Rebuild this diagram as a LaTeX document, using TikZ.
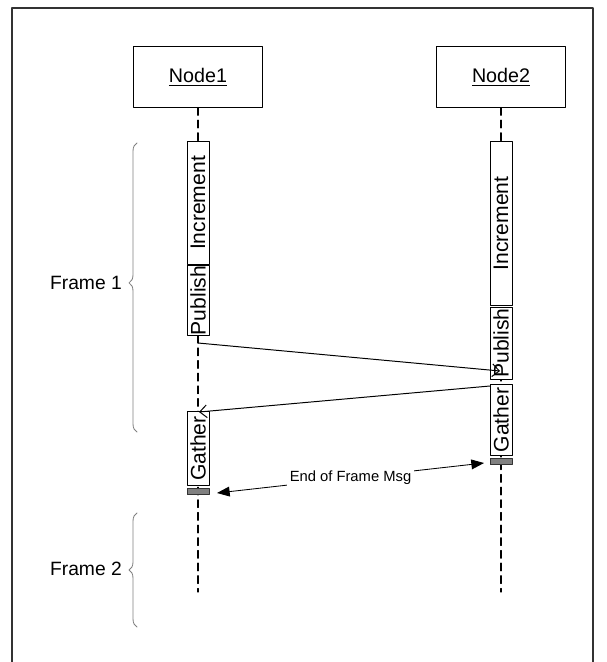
\documentclass[tikz,border=0pt]{standalone}
\usepackage{fontspec}
\setmainfont{Liberation Sans}
\usetikzlibrary{arrows.meta,decorations.pathreplacing}
\tikzstyle{every path}=[line width=0.7pt,line cap=round,line join=round]
\tikzstyle{head}=[draw,minimum width=3.22cm,minimum height=1.5cm,font=\fontsize{14}{16}\selectfont]
\tikzstyle{act}=[draw,fill=white,rotate=90,inner sep=0pt,minimum height=0.55cm,font=\fontsize{15}{16}\selectfont]
\tikzstyle{endbar}=[draw=gray!40!black,fill=gray,minimum width=0.55cm,minimum height=0.17cm,inner sep=0pt]
\tikzstyle{life}=[dash pattern=on 5.5pt off 3.5pt,line width=0.8pt]
\tikzstyle{framebrace}=[draw=gray,line width=0.6pt,decorate,decoration={brace,amplitude=0.2cm}]
\tikzstyle{msg}=[line width=0.7pt,-{Straight Barb[length=5pt,width=9pt]}]

\begin{document}
\begin{tikzpicture}[x=0.025cm,y=-0.025cm]
  \useasboundingbox (0,0) rectangle (606,662);
  % outer sheet
  \draw[gray!40!black,line width=1pt,line cap=butt] (12,662)--(12,8)--(593,8)--(593,662);

  % heads and lifelines
  \node[head] (n1) at (198,77) {\underline{Node1}};
  \node[head] (n2) at (501,77) {\underline{Node2}};
  \coordinate (n1end) at (198,592);
  \coordinate (n2end) at (501,592);
  \draw[life] (n1.south) -- (n1end);
  \draw[life] (n2.south) -- (n2end);

  % activations, Node1
  \node[act,minimum width=3.05cm] (inc1) at (198,203) {Increment};
  \node[act,minimum width=1.73cm] (pub1) at (198,300.5) {Publish};
  \node[act,minimum width=1.83cm] (gat1) at (198,448.5) {Gather};
  \node[endbar] (bar1) at (198,491.5) {};
  % activations, Node2
  \node[act,minimum width=4.08cm] (inc2) at (501,223.5) {Increment};
  \node[act,minimum width=1.8cm] (pub2) at (501,343) {Publish};
  \node[act,minimum width=1.78cm] (gat2) at (501,420) {Gather};
  \node[endbar] (bar2) at (501,461.5) {};

  % messages
  \coordinate (m1s) at (198,343);
  \coordinate (m1e) at (500,371);
  \coordinate (m2s) at (490,386);
  \coordinate (m2e) at (199,412);
  \draw[msg] (m1s) -- (m1e);
  \draw[msg] (m2s) -- (m2e);

  % end of frame
  \coordinate (e1) at (217,493);
  \coordinate (e2) at (484,463);
  \draw[line width=0.6pt,{Triangle[length=9pt,width=7pt]}-{Triangle[length=9pt,width=7pt]}] (e1) -- (e2)
    node[midway,fill=white,inner sep=2pt,font=\fontsize{10.5}{12}\selectfont] (eofm) {End of Frame Msg};

  % frames
  \node[anchor=east,font=\fontsize{13.7}{16}\selectfont] (fr1) at (127,283) {Frame 1};
  \node[anchor=east,font=\fontsize{13.7}{16}\selectfont] (fr2) at (127,569) {Frame 2};
  \draw[framebrace,decoration={aspect=0.516}] (137,432) -- (137,143);
  \draw[framebrace] (137,627) -- (137,513);
\end{tikzpicture}
\end{document}
